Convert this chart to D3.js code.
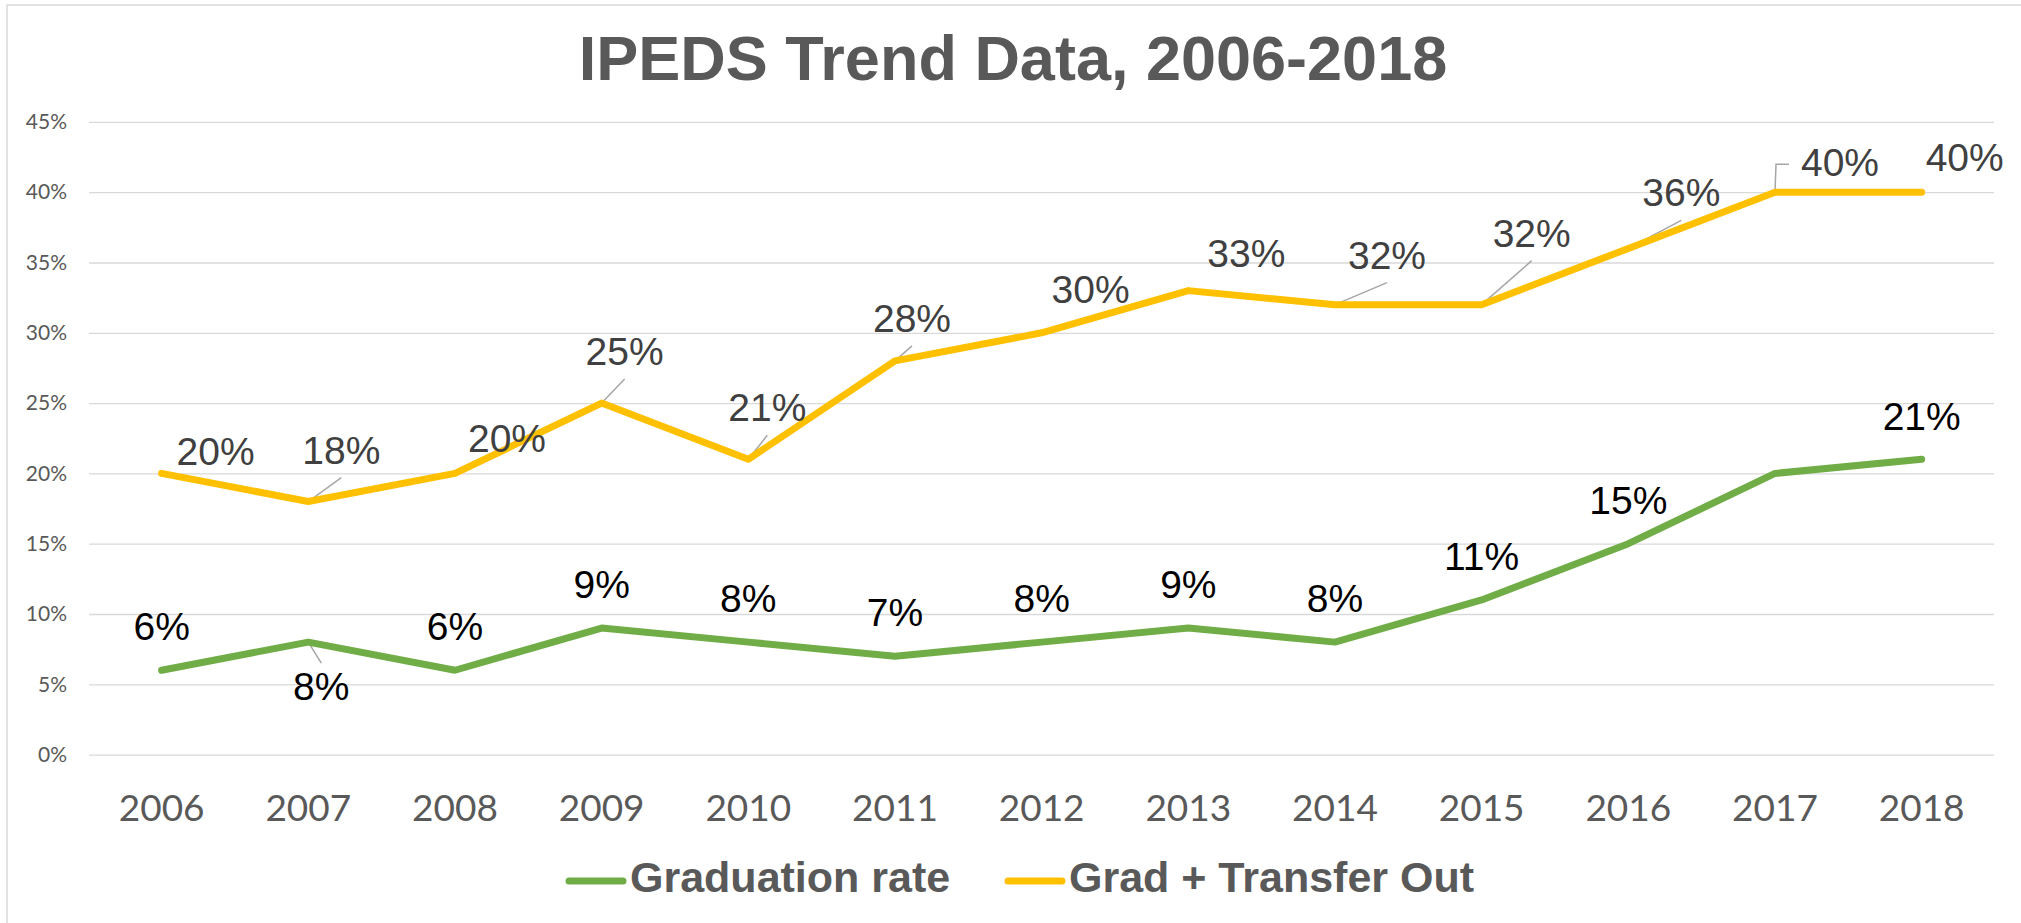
<!DOCTYPE html>
<html>
<head>
<meta charset="utf-8">
<script src="https://cdn.jsdelivr.net/npm/d3@7"></script>
<style>
  body { margin: 0; background: #fff; }
  svg { display: block; }
</style>
</head>
<body>
<svg id="chart" width="2021" height="923"></svg>
<script>
// chart values
var years = [ "2006", "2007", "2008", "2009", "2010", "2011", "2012", "2013", "2014", "2015", "2016", "2017", "2018" ];
var gradRate = [ 6, 8, 6, 9, 8, 7, 8, 9, 8, 11, 15, 20, 21 ];
var gradTransfer = [ 20, 18, 20, 25, 21, 28, 30, 33, 32, 32, 36, 40, 40 ];
var yTicks = [ 0, 5, 10, 15, 20, 25, 30, 35, 40, 45 ];
var seriesNames = [ "Graduation rate", "Grad + Transfer Out" ];

// where each data label sits relative to its point: [dx, dy, leader] (0 none, 1 straight, 2 elbow)
var gradLabelPos = [ [0,-30,0], [13,58,1], [0,-30,0], [0,-30,0], [0,-30,0], [0,-30,0], [0,-30,0],
                     [0,-30,0], [0,-30,0], [0,-30,0], [0,-30,0], null, [0,-29,0] ];
var transferLabelPos = [ [54,-8,0], [33,-38,1], [52,-21,0], [23,-38,1], [19,-38,1], [17,-29,1], [49,-30,1],
                         [58,-24,0], [52,-36,1], [50,-58,1], [53,-42,1], [65,-16,2], [43,-21,0] ];

var W = 2021, H = 923;
var svg = d3.select( "#chart" );

var x = d3.scaleBand().domain( years ).range( [88.3, 1995] ).padding( 0 );
var y = d3.scaleLinear().domain( [0, 45] ).range( [754.6, 121.9] );
var cx = d => x( d ) + x.bandwidth() / 2;

// outer frame
svg.append( "rect" ).attr( "x", 7 ).attr( "y", 5 )
    .attr( "width", W ).attr( "height", H )
    .attr( "fill", "none" ).attr( "stroke", "#d9d9d9" ).attr( "stroke-width", 1.5 );

// title
svg.append( "text" ).attr( "x", 1013 ).attr( "y", 80 )
    .attr( "text-anchor", "middle" )
    .attr( "font-family", "Liberation Sans, Arial, sans-serif" ).attr( "font-weight", "bold" )
    .attr( "font-size", 63 ).attr( "fill", "#595959" )
    .text( "IPEDS Trend Data, 2006-2018" );

// y axis with gridlines
var yAxis = svg.append( "g" ).attr( "transform", "translate(89,0)" )
    .call( d3.axisLeft( y ).tickValues( yTicks ).tickFormat( d => d + "%" )
        .tickSize( -(1994 - 89) ).tickPadding( 22 ) );
yAxis.select( ".domain" ).remove();
yAxis.selectAll( "line" ).attr( "stroke", "#d9d9d9" ).attr( "stroke-width", 1.3 );
yAxis.selectAll( "text" ).attr( "font-family", "Lato, sans-serif" ).attr( "font-size", 21 )
    .attr( "fill", "#595959" );

// x axis labels
var xAxis = svg.append( "g" ).attr( "transform", "translate(0," + y( 0 ) + ")" )
    .call( d3.axisBottom( x ).tickSize( 0 ).tickPadding( 40 ) );
xAxis.select( ".domain" ).remove();
xAxis.selectAll( "text" ).attr( "font-family", "Lato, sans-serif" ).attr( "font-size", 37 )
    .attr( "fill", "#595959" );

// component: one line series with its data labels
function series( sel, values, color, labelPos, labelColor ) {
    var pts = values.map( (v, i) => [ cx( years[i] ), y( v ), v, labelPos[i] ] );

    // leader lines go under the line
    var leaders = sel.append( "g" ).attr( "fill", "none" ).attr( "stroke", "#a6a6a6" ).attr( "stroke-width", 1.5 );

    sel.append( "path" ).datum( pts )
        .attr( "d", d3.line().x( p => p[0] ).y( p => p[1] ) )
        .attr( "fill", "none" ).attr( "stroke", color ).attr( "stroke-width", 7 )
        .attr( "stroke-linecap", "round" ).attr( "stroke-linejoin", "round" );

    pts.forEach( p => {
        var pos = p[3];
        if ( !pos ) return;
        var lx = p[0] + pos[0], ly = p[1] + pos[1];
        if ( pos[2] === 1 ) {
            var ey = pos[1] > 0 ? ly - 37 : ly + 14;
            leaders.append( "line" ).attr( "x1", p[0] ).attr( "y1", p[1] )
                .attr( "x2", lx ).attr( "y2", ey );
        } else if ( pos[2] === 2 ) {
            leaders.append( "polyline" )
                .attr( "points", [ [p[0], p[1]], [p[0] + 1, ly - 12], [lx - 51, ly - 12] ].join( " " ) );
        }
        sel.append( "text" ).attr( "x", lx ).attr( "y", ly )
            .attr( "text-anchor", "middle" )
            .attr( "font-family", "Liberation Sans, Arial, sans-serif" ).attr( "font-size", 39 )
            .attr( "fill", labelColor )
            .text( p[2] + "%" );
    } );
}

svg.append( "g" ).call( series, gradTransfer, "#ffc000", transferLabelPos, "#404040" );
svg.append( "g" ).call( series, gradRate, "#70ad47", gradLabelPos, "#000000" );

// legend
var legend = [ { name: seriesNames[0], color: "#70ad47", x: 569 },
               { name: seriesNames[1], color: "#ffc000", x: 1008 } ];
var lg = svg.append( "g" ).selectAll( "g" ).data( legend ).enter().append( "g" )
    .attr( "transform", d => "translate(" + d.x + ",881)" );
lg.append( "line" ).attr( "x1", 0 ).attr( "x2", 54 )
    .attr( "stroke", d => d.color ).attr( "stroke-width", 7 ).attr( "stroke-linecap", "round" );
lg.append( "text" ).attr( "x", 61 ).attr( "y", 11 )
    .attr( "font-family", "Liberation Sans Narrow, Arial Narrow, sans-serif" ).attr( "font-weight", "bold" )
    .attr( "font-size", 43 ).attr( "fill", "#595959" )
    .text( d => d.name );
</script>
</body>
</html>
